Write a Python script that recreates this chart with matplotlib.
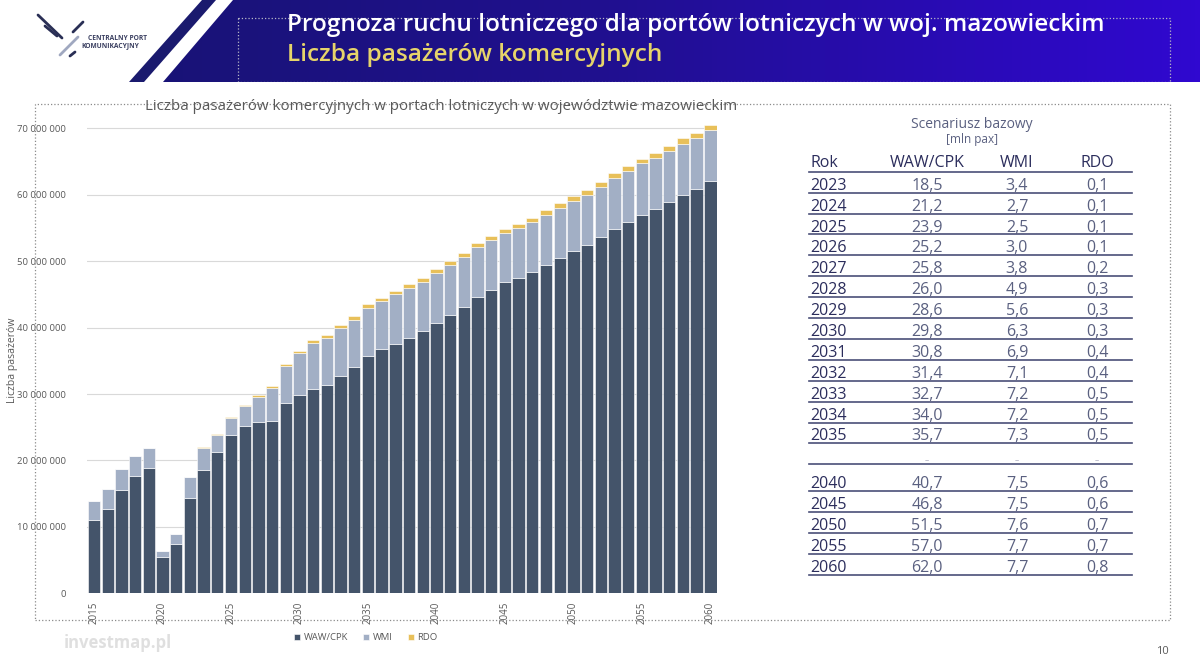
import matplotlib.pyplot as plt
import numpy as np
from matplotlib.patches import Polygon, Rectangle
from matplotlib.lines import Line2D
from matplotlib.ticker import FuncFormatter
from matplotlib.colors import LinearSegmentedColormap

# dane wykresu [mln pax]
lata = list(range(2015, 2061))
waw = [11.1, 12.7, 15.6, 17.7, 18.8, 5.4, 7.4, 14.4,
       18.5, 21.2, 23.9, 25.2, 25.8, 26.0, 28.6, 29.8, 30.8, 31.4, 32.7, 34.0, 35.7,
       36.7, 37.6, 38.5, 39.5, 40.7, 41.9, 43.1, 44.6, 45.7, 46.8,
       47.5, 48.4, 49.4, 50.4, 51.5, 52.4, 53.6, 54.8, 55.9, 57.0,
       57.9, 58.9, 60.0, 60.8, 62.0]
wmi = [2.8, 3.0, 3.1, 3.0, 3.1, 0.9, 1.5, 3.1,
       3.4, 2.7, 2.5, 3.0, 3.8, 4.9, 5.6, 6.3, 6.9, 7.1, 7.2, 7.2, 7.3,
       7.3, 7.4, 7.4, 7.4, 7.5, 7.5, 7.5, 7.5, 7.5, 7.5,
       7.5, 7.5, 7.6, 7.6, 7.6, 7.6, 7.6, 7.7, 7.7, 7.7,
       7.7, 7.7, 7.7, 7.7, 7.7]
rdo = [0.0, 0.0, 0.0, 0.0, 0.0, 0.0, 0.0, 0.0,
       0.1, 0.1, 0.1, 0.1, 0.2, 0.3, 0.3, 0.3, 0.4, 0.4, 0.5, 0.5, 0.5,
       0.5, 0.5, 0.6, 0.6, 0.6, 0.6, 0.6, 0.6, 0.6, 0.6,
       0.6, 0.6, 0.7, 0.7, 0.7, 0.7, 0.7, 0.7, 0.7, 0.7,
       0.7, 0.7, 0.8, 0.8, 0.8]

# tabela
tab_lata = ['2023', '2024', '2025', '2026', '2027', '2028', '2029', '2030', '2031',
            '2032', '2033', '2034', '2035', '', '2040', '2045', '2050', '2055', '2060']
tab_waw = [18.5, 21.2, 23.9, 25.2, 25.8, 26.0, 28.6, 29.8, 30.8, 31.4, 32.7, 34.0, 35.7,
           None, 40.7, 46.8, 51.5, 57.0, 62.0]
tab_wmi = [3.4, 2.7, 2.5, 3.0, 3.8, 4.9, 5.6, 6.3, 6.9, 7.1, 7.2, 7.2, 7.3,
           None, 7.5, 7.5, 7.6, 7.7, 7.7]
tab_rdo = [0.1, 0.1, 0.1, 0.1, 0.2, 0.3, 0.3, 0.3, 0.4, 0.4, 0.5, 0.5, 0.5,
           None, 0.6, 0.6, 0.7, 0.7, 0.8]

c_waw = '#44546a'
c_wmi = '#a2afc5'
c_rdo = '#e8c05a'
szary = '#595959'

W, H = 1200, 669
fig = plt.figure(figsize=(12, 6.69), dpi=100)
plt.rcParams['font.family'] = ['Open Sans', 'DejaVu Sans']


def fx(x):
    return x / W


def fy(y):
    return 1 - y / H


# naglowek
xs = np.linspace(0, 1, 256).reshape(1, -1)
grad = fig.add_axes([0, fy(82), 1, 82 / H])
grad.axis('off')
cmap = LinearSegmentedColormap.from_list('hdr', ['#16146e', '#20108f', '#3008d0'])
im = grad.imshow(xs, aspect='auto', cmap=cmap, extent=[0, W, 82, 0])
grad.set_xlim(0, W)
grad.set_ylim(82, 0)
banner = Polygon([(233, 0), (W, 0), (W, 82), (163, 82)], closed=True,
                 transform=grad.transData, facecolor='none', edgecolor='none')
grad.add_patch(banner)
im.set_clip_path(banner)
grad.add_patch(Polygon([(202, 0), (216, 0), (144, 82), (129, 82)], closed=True,
                       facecolor='#1a1a6e', edgecolor='none'))
grad.add_patch(Rectangle((238, 18), 932, 64, fill=False, edgecolor='#b8b8c8',
                         linestyle=':', linewidth=0.9))

fig.text(fx(287), fy(25), 'Prognoza ruchu lotniczego dla portów lotniczych w woj. mazowieckim',
         color='white', fontsize=17.6, fontweight='semibold', va='center', ha='left')
fig.text(fx(287), fy(55), 'Liczba pasażerów komercyjnych',
         color='#e6d46a', fontsize=17.6, fontweight='semibold', va='center', ha='left')

# logo
for (x0, y0, x1, y1, c) in [(38, 15, 62, 38, '#2a2f55'), (45, 26, 57, 36, '#2a2f55'),
                            (83, 22, 73, 32, '#2a2f55'), (78, 37, 60, 55, '#a0a8c0'),
                            (75, 52, 70, 56, '#2a2f55')]:
    fig.add_artist(Line2D([fx(x0), fx(x1)], [fy(y0), fy(y1)], color=c, linewidth=2,
                          solid_capstyle='round'))
fig.text(fx(88), fy(38), 'CENTRALNY PORT', fontsize=4.8, color='#3a3f60',
         fontweight='bold', va='center')
fig.text(fx(81), fy(46), 'KOMUNIKACYJNY', fontsize=4.8, color='#3a3f60',
         fontweight='bold', va='center')

# ramka wykresu
fig.add_artist(Rectangle((fx(35), fy(620)), fx(1170 - 35), (620 - 104) / H, fill=False,
                         edgecolor='#8a8a8a', linestyle=':', linewidth=0.9,
                         transform=fig.transFigure))

# wykres
ax = fig.add_axes([fx(87.2), fy(593.3), fx(630), (593.3 - 115) / H])
x = np.arange(len(lata))
waw_v = np.array(waw) * 1e6
wmi_v = np.array(wmi) * 1e6
rdo_v = np.array(rdo) * 1e6
ax.bar(x, waw_v, width=0.9, color=c_waw, edgecolor='white', linewidth=0.4,
       label='WAW/CPK', zorder=3)
ax.bar(x, wmi_v, bottom=waw_v, width=0.9, color=c_wmi, edgecolor='white',
       linewidth=0.4, label='WMI', zorder=3)
ax.bar(x, rdo_v, bottom=waw_v + wmi_v, width=0.9, color=c_rdo, edgecolor='white',
       linewidth=0.4, label='RDO', zorder=3)
ax.set_xlim(-0.5, len(lata) - 0.5)
ax.set_ylim(0, 72e6)
ax.set_yticks(np.arange(0, 70e6 + 1, 10e6))
ax.yaxis.set_major_formatter(FuncFormatter(lambda v, p: '{:,.0f}'.format(v).replace(',', ' ')))
ax.set_xticks([i for i, r in enumerate(lata) if r % 5 == 0])
ax.set_xticklabels([str(r) for r in lata if r % 5 == 0], rotation=90)
ax.tick_params(axis='y', length=0, pad=15, labelsize=6.8, labelcolor=szary)
ax.tick_params(axis='x', length=0, pad=6, labelsize=7, labelcolor=szary)
ax.grid(axis='y', color='#d9d9d9', linewidth=0.8, zorder=0)
for s in ax.spines.values():
    s.set_visible(False)
ax.set_facecolor('none')

fig.text(fx(441), fy(107), 'Liczba pasażerów komercyjnych w portach lotniczych w województwie mazowieckim',
         ha='center', va='center', fontsize=10.9, color=szary)
fig.text(fx(13), fy(360), 'Liczba pasażerów', rotation=90, ha='center', va='center',
         fontsize=7.5, color=szary)

leg = fig.legend(loc='center', bbox_to_anchor=(fx(366), fy(638)), ncol=3, frameon=False,
                 fontsize=6.8, handlelength=0.6, handleheight=0.6, columnspacing=1.6,
                 handletextpad=0.4)
for t in leg.get_texts():
    t.set_color(szary)

fig.text(fx(118), fy(643), 'investmap.pl', ha='center', va='center', fontsize=12,
         fontweight='bold', color='#d8d8d8', alpha=0.8)
fig.text(fx(1162), fy(651), '10', ha='center', va='center', fontsize=8, color=szary)

# tabela
kolor_t = '#2b2d5c'
kolor_w = '#5a6080'
fig.text(fx(972), fy(124), 'Scenariusz bazowy', ha='center', va='center', fontsize=10,
         color='#5a6080')
fig.text(fx(972), fy(140), '[mln pax]', ha='center', va='center', fontsize=8.5,
         color='#5a6080')
kol_x = [810, 927, 1017, 1097]
naglowki = ['Rok', 'WAW/CPK', 'WMI', 'RDO']
for i, n in enumerate(naglowki):
    fig.text(fx(kol_x[i]), fy(163), n, ha='left' if i == 0 else 'center', va='center',
             fontsize=11.5, color=kolor_t)
fig.add_artist(Line2D([fx(809), fx(1132)], [fy(171.5), fy(171.5)], color='#4a4f78',
                      linewidth=1.2))
y_lin = 192.7
for i, rok in enumerate(tab_lata):
    if i == 14:
        y_lin += 26.7
    elif i > 0:
        y_lin += 20.9
    y_t = y_lin - 7
    if tab_waw[i] is None:
        for cx in kol_x[1:]:
            fig.text(fx(cx), fy(y_t + 3), '–', ha='center', va='center', fontsize=6,
                     color='#9090a8')
    else:
        fig.text(fx(kol_x[0]), fy(y_t), rok, ha='left', va='center', fontsize=11.5,
                 color=kolor_t)
        for cx, v in zip(kol_x[1:], [tab_waw[i], tab_wmi[i], tab_rdo[i]]):
            fig.text(fx(cx), fy(y_t), '{:.1f}'.format(v).replace('.', ','), ha='center',
                     va='center', fontsize=11.5, color=kolor_w)
    fig.add_artist(Line2D([fx(809), fx(1132)], [fy(y_lin), fy(y_lin)], color='#4a4f78',
                          linewidth=1.2))

fig.savefig('out.png', dpi=100)
